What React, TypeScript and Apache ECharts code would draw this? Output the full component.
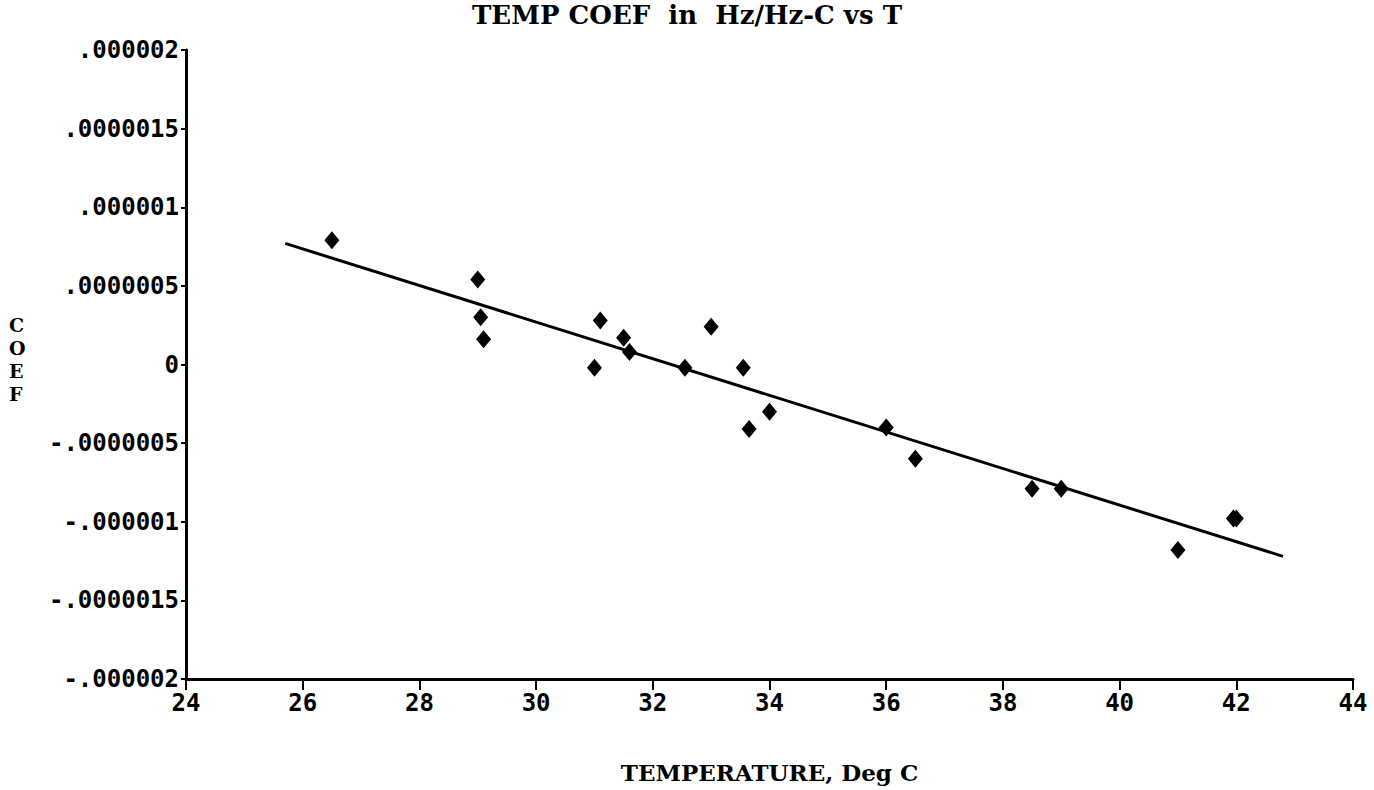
import React, { useEffect, useRef } from "react";
import * as echarts from "echarts";

const titleText = "TEMP COEF  in  Hz/Hz-C vs T";
const xName = "TEMPERATURE, Deg C";
const yName = "C\nO\nE\nF";

const xValues = [26.5, 29.0, 29.05, 29.1, 31.0, 31.1, 31.5, 31.6, 32.55, 33.0, 33.55, 33.65, 34.0, 36.0, 36.5, 38.5, 39.0, 41.0, 41.95, 42.0];
const yValues = [0.79e-6, 0.54e-6, 0.30e-6, 0.16e-6, -0.02e-6, 0.28e-6, 0.17e-6, 0.08e-6, -0.02e-6, 0.24e-6, -0.02e-6, -0.41e-6, -0.30e-6, -0.40e-6, -0.60e-6, -0.79e-6, -0.79e-6, -1.18e-6, -0.98e-6, -0.98e-6];

const fitX = [25.7, 42.8];
const fitY = [0.77e-6, -1.22e-6];

const yTickLabels = ["-.000002", "-.0000015", "-.000001", "-.0000005", "0", ".0000005", ".000001", ".0000015", ".000002"];
const xTickLabels = ["24", "26", "28", "30", "32", "34", "36", "38", "40", "42", "44"];

const Y_MIN = -2e-6;
const Y_STEP = 0.5e-6;
const X_MIN = 24;
const X_STEP = 2;

export default function App() {
  const ref = useRef<HTMLDivElement>(null);
  useEffect(() => {
    if (!ref.current) return;
    const chart = echarts.init(ref.current, null, { renderer: "svg" });
    const tickFont = {
      fontFamily: "DejaVu Sans Mono",
      fontWeight: "bold" as const,
      fontSize: 24,
      color: "#000",
    };
    chart.setOption({
      animation: false,
      backgroundColor: "#fff",
      title: {
        text: titleText,
        left: "center",
        top: 2,
        padding: [0, 0, 0, 0],
        textStyle: {
          fontFamily: "DejaVu Serif",
          fontWeight: "bold",
          fontSize: 26,
          color: "#000",
        },
      },
      grid: { left: 186, right: 21, top: 50, bottom: 111, containLabel: false },
      xAxis: {
        type: "value",
        min: X_MIN,
        max: 44,
        interval: X_STEP,
        name: xName,
        nameLocation: "middle",
        nameGap: 82,
        nameTextStyle: {
          fontFamily: "DejaVu Serif",
          fontWeight: "bold",
          fontSize: 23,
          color: "#000",
          verticalAlign: "top",
        },
        axisLine: { show: true, onZero: false, lineStyle: { color: "#000", width: 3 } },
        axisTick: { show: true, length: 11, lineStyle: { color: "#000", width: 2 } },
        axisLabel: {
          ...tickFont,
          margin: 12,
          formatter: (v: number) => xTickLabels[Math.round((v - X_MIN) / X_STEP)] ?? "",
        },
        splitLine: { show: false },
      },
      yAxis: {
        type: "value",
        min: Y_MIN,
        max: 2e-6,
        interval: Y_STEP,
        axisLine: { show: true, onZero: false, lineStyle: { color: "#000", width: 3 } },
        axisTick: { show: true, length: 5, lineStyle: { color: "#000", width: 2 } },
        axisLabel: {
          ...tickFont,
          margin: 7,
          formatter: (v: number) => yTickLabels[Math.round((v - Y_MIN) / Y_STEP)] ?? "",
        },
        splitLine: { show: false },
      },
      graphic: [
        {
          type: "text",
          left: 9,
          top: 313,
          style: {
            text: yName,
            fontFamily: "DejaVu Serif",
            fontWeight: "bold",
            fontSize: 19,
            lineHeight: 23,
            fill: "#000",
          },
        },
      ],
      series: [
        {
          type: "line",
          data: fitX.map((x, i) => [x, fitY[i]]),
          symbol: "none",
          lineStyle: { color: "#000", width: 3 },
          z: 2,
        },
        {
          type: "scatter",
          data: xValues.map((x, i) => [x, yValues[i]]),
          symbol: "diamond",
          symbolSize: [15, 18],
          itemStyle: { color: "#000", opacity: 1 },
          z: 3,
        },
      ],
    });
    return () => chart.dispose();
  }, []);
  return (
    <div
      ref={ref}
      style={{ position: "fixed", left: 0, top: 0, width: 1374, height: 790 }}
    />
  );
}
